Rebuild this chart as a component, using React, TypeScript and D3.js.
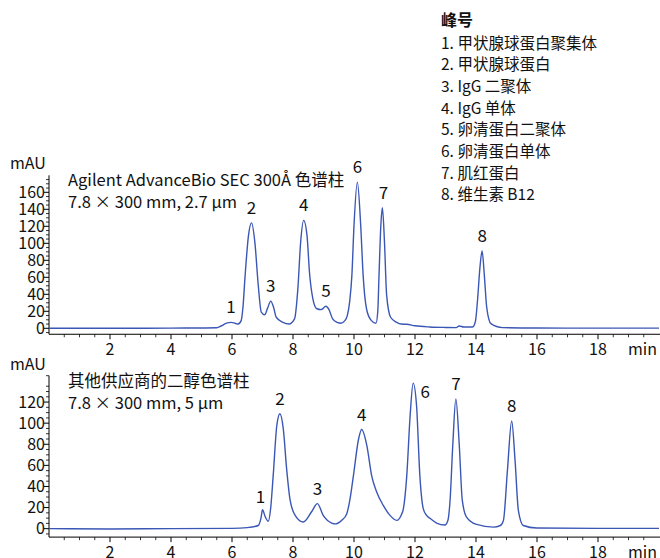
import * as d3 from "d3";

// chromatogram 1: Agilent AdvanceBio SEC 300Å (time in min, signal in mAU)
const topTime = [0, 2, 4, 5, 5.5, 5.66, 5.82, 5.97, 6.1, 6.2, 6.3, 6.36, 6.43, 6.54, 6.64, 6.75, 6.86, 6.96, 7.07, 7.17, 7.27, 7.36, 7.45, 7.67, 7.87, 8.05, 8.16, 8.25, 8.35, 8.46, 8.54, 8.65, 8.78, 8.92, 9.08, 9.18, 9.3, 9.45, 9.57, 9.7, 9.78, 9.86, 9.93, 10.0, 10.11, 10.22, 10.3, 10.41, 10.55, 10.72, 10.78, 10.82, 10.88, 10.93, 11.0, 11.07, 11.2, 11.4, 11.55, 11.73, 12.0, 12.48, 13.0, 13.35, 13.45, 13.6, 13.89, 13.98, 14.05, 14.13, 14.2, 14.27, 14.35, 14.49, 14.87, 16, 18, 20];
const topMAU = [0, 0, 0.2, 0.4, 0.6, 3, 6, 7, 6, 5, 9, 25, 62, 109, 124, 101, 51, 19, 16, 24, 32, 25, 13, 7, 5, 11, 47, 101, 127, 109, 66, 35, 23, 22, 26, 22, 11, 7, 6, 9, 15, 32, 62, 121, 172, 121, 62, 23, 10, 6, 20, 62, 121, 142, 101, 39, 13, 7, 5, 4.7, 3, 1.6, 1, 0.8, 2.7, 1.5, 1.6, 8, 33, 72, 91, 64, 25, 5.5, 0.8, 0.3, 0.2, 0.2];

// chromatogram 2: other vendor diol column
const botTime = [0, 2, 4, 6, 6.5, 6.86, 6.95, 7.0, 7.08, 7.19, 7.27, 7.35, 7.47, 7.57, 7.68, 7.79, 7.9, 8.07, 8.34, 8.61, 8.8, 8.99, 9.27, 9.38, 9.6, 9.76, 9.88, 9.98, 10.15, 10.25, 10.42, 10.58, 10.74, 10.96, 11.18, 11.4, 11.55, 11.62, 11.73, 11.84, 11.94, 12.05, 12.16, 12.27, 12.38, 12.49, 12.71, 12.98, 13.08, 13.15, 13.24, 13.34, 13.45, 13.55, 13.69, 14.02, 14.57, 14.8, 14.9, 15.03, 15.17, 15.28, 15.39, 15.55, 15.99, 18, 20];
const botMAU = [0, -0.3, 0, 0.3, 1, 3, 10, 18, 12, 7, 20, 50, 98, 109, 95, 57, 28, 12.6, 6.3, 16, 23.7, 12.6, 5.3, 4.5, 8, 14, 30, 50, 85, 94, 79, 50, 35, 22, 12.6, 7.9, 13, 19, 50, 107, 138, 117, 50, 19, 12.6, 9.8, 5.3, 3.4, 8, 27, 80, 123, 80, 27, 11, 4, 1.5, 3, 7.9, 55, 102, 65, 17, 3, 0.6, 0.3, 0.3];

// peak labels
const topPeakIds = ["1", "2", "3", "4", "5", "6", "7", "8"];
const topPeakTimes = [5.97, 6.64, 7.27, 8.35, 9.08, 10.11, 10.93, 14.2];
const topPeakMAU = [7, 124, 32, 127, 26, 172, 142, 91];

const botPeakIds = ["1", "2", "3", "4", "6", "7", "8"];
const botPeakTimes = [7.0, 7.57, 8.8, 10.25, 11.94, 13.34, 15.17];
const botPeakMAU = [18, 109, 23.7, 94, 138, 123, 102];

const legendTitle = "峰号";
const legendItems = ["1. 甲状腺球蛋白聚集体", "2. 甲状腺球蛋白", "3. IgG 二聚体", "4. IgG 单体", "5. 卵清蛋白二聚体", "6. 卵清蛋白单体", "7. 肌红蛋白", "8. 维生素 B12"];

const topTitle = ["Agilent AdvanceBio SEC 300Å 色谱柱", "7.8 × 300 mm, 2.7 µm"];
const botTitle = ["其他供应商的二醇色谱柱", "7.8 × 300 mm, 5 µm"];

const xMajor = [2, 4, 6, 8, 10, 12, 14, 16, 18];
const topYMajor = [0, 20, 40, 60, 80, 100, 120, 140, 160];
const botYMajor = [0, 20, 40, 60, 80, 100, 120];

const W = 660;
const H = 558;
const FONT = "'Noto Sans CJK SC', sans-serif";
const LINE = "#3b57b5";

const x = d3.scaleLinear().domain([0, 20]).range([49, 659]);
const xMinor = d3.range(0.5, 20, 0.5).filter((t) => t % 2 !== 0);

function Panel({ y, yMajor, times, vals, ids, pTimes, pVals, title, labelShift }) {
  const [y0, y1] = y.range();
  const yMinor = d3.range(-5, y.domain()[1] + 0.1, 5).filter((v) => v % 20 !== 0);
  const line = d3
    .line<number>()
    .x((_, i) => x(times[i]))
    .y((d) => y(d))
    .curve(d3.curveMonotoneX);
  return (
    <g>
      {/* y axis */}
      <line x1={x(0)} x2={x(0)} y1={y1} y2={y0} stroke="#000" strokeWidth={1} />
      {yMajor.map((v) => (
        <g key={"ym" + v}>
          <line x1={x(0) - 5} x2={x(0)} y1={y(v)} y2={y(v)} stroke="#000" />
          <text x={x(0) - 4} y={y(v) + 5.5} textAnchor="end" fontSize={16}>
            {v}
          </text>
        </g>
      ))}
      {yMinor.map((v) => (
        <line key={"yn" + v} x1={x(0) - 3} x2={x(0)} y1={y(v)} y2={y(v)} stroke="#000" strokeWidth={0.8} />
      ))}
      <text x={10} y={y1 - 6} fontSize={16}>
        mAU
      </text>
      {/* x axis */}
      <line x1={x(0)} x2={W} y1={y0} y2={y0} stroke="#000" />
      {xMajor.map((t) => (
        <g key={"xm" + t}>
          <line x1={x(t)} x2={x(t)} y1={y0} y2={y0 + 5} stroke="#000" />
          <text x={x(t)} y={y0 + 21} textAnchor="middle" fontSize={16}>
            {t}
          </text>
        </g>
      ))}
      {xMinor.map((t) => (
        <line key={"xn" + t} x1={x(t)} x2={x(t)} y1={y0} y2={y0 + 3} stroke="#000" strokeWidth={0.8} />
      ))}
      <text x={657} y={y0 + 21} textAnchor="end" fontSize={16}>
        min
      </text>
      {/* trace */}
      <path d={line(vals) ?? ""} fill="none" stroke={LINE} strokeWidth={1.4} />
      {ids.map((id, i) => {
        const s = labelShift[id] ?? [0, -9];
        return (
          <text key={"p" + id} x={x(pTimes[i]) + s[0]} y={y(pVals[i]) + s[1]} textAnchor="middle" fontSize={17}>
            {id}
          </text>
        );
      })}
      <text x={68} y={y1 + 11} fontSize={16.5}>
        {title[0]}
      </text>
      <text x={68} y={y1 + 33} fontSize={16.5}>
        {title[1]}
      </text>
    </g>
  );
}

export default function App() {
  const yTop = d3.scaleLinear().domain([-7, 180]).range([334.25, 175.3]);
  const yBot = d3.scaleLinear().domain([-8, 145]).range([537.1, 375.7]);
  return (
    <svg
      width={W}
      height={H}
      style={{ position: "absolute", left: 0, top: 0, background: "#fff" }}
      fontFamily={FONT}
      fill="#111"
    >
      <text x={441} y={26} fontSize={16} fontWeight="bold">
        {legendTitle}
      </text>
      {legendItems.map((s, i) => (
        <text key={s} x={441} y={48.5 + i * 21.7} fontSize={15.5}>
          {s}
        </text>
      ))}
      <Panel
        y={yTop}
        yMajor={topYMajor}
        times={topTime}
        vals={topMAU}
        ids={topPeakIds}
        pTimes={topPeakTimes}
        pVals={topPeakMAU}
        title={topTitle}
        labelShift={{ "7": [1, -9] }}
      />
      <Panel
        y={yBot}
        yMajor={botYMajor}
        times={botTime}
        vals={botMAU}
        ids={botPeakIds}
        pTimes={botPeakTimes}
        pVals={botPeakMAU}
        title={botTitle}
        labelShift={{ "6": [12, 15], "1": [-2, -7] }}
      />
    </svg>
  );
}
